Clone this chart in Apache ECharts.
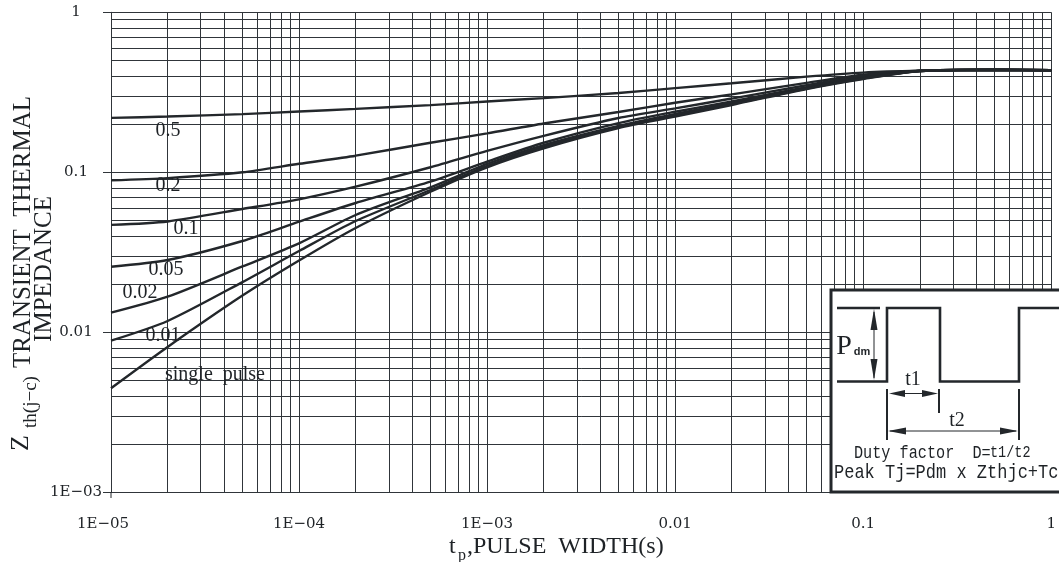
<!DOCTYPE html>
<html>
<head>
<meta charset="utf-8">
<script src="https://cdn.jsdelivr.net/npm/echarts@6/dist/echarts.min.js"></script>
<style>
  html, body { margin: 0; padding: 0; background: #ffffff; }
  #chart { width: 1059px; height: 562px; }
</style>
</head>
<body>
<div id="chart"></div>
<script>
// Pulse widths tp (s) where each curve is sampled
const pulseWidth = [1e-5, 2e-5, 5e-5, 1e-4, 2e-4, 5e-4, 1e-3, 2e-3, 5e-3, 1e-2, 2e-2, 5e-2, 0.1, 0.2, 0.5, 1];

// Transient thermal impedance Zth(j-c) for each duty factor
const zthD05    = [0.219, 0.223, 0.231, 0.240, 0.249, 0.263, 0.277, 0.291, 0.313, 0.336, 0.360, 0.396, 0.420, 0.431, 0.437, 0.434];
const zthD02    = [0.089, 0.092, 0.100, 0.113, 0.127, 0.153, 0.175, 0.202, 0.238, 0.272, 0.307, 0.362, 0.407, 0.431, 0.437, 0.434];
const zthD01    = [0.0469, 0.0493, 0.059, 0.0678, 0.0813, 0.1075, 0.136, 0.169, 0.2185, 0.251, 0.289, 0.350, 0.400, 0.430, 0.437, 0.434];
const zthD005   = [0.0257, 0.0283, 0.0372, 0.0491, 0.0643, 0.0874, 0.1165, 0.153, 0.203, 0.239, 0.277, 0.341, 0.391, 0.430, 0.437, 0.434];
const zthD002   = [0.01326, 0.0167, 0.0258, 0.036, 0.0541, 0.0806, 0.1127, 0.148, 0.195, 0.2314, 0.271, 0.336, 0.388, 0.430, 0.437, 0.434];
const zthD001   = [0.00886, 0.01177, 0.0206, 0.0322, 0.0496, 0.0775, 0.1095, 0.1445, 0.192, 0.2272, 0.267, 0.334, 0.3856, 0.430, 0.437, 0.434];
const zthSingle = [0.00447, 0.0081, 0.01696, 0.0281, 0.0449, 0.0756, 0.1075, 0.1413, 0.189, 0.2226, 0.2634, 0.3318, 0.383, 0.430, 0.437, 0.434];

const curveNames = ['0.5', '0.2', '0.1', '0.05', '0.02', '0.01', 'single pulse'];
const curveValues = [zthD05, zthD02, zthD01, zthD005, zthD002, zthD001, zthSingle];

// Decade tick labels
const xTickLabels = ['1E\u221205', '1E\u221204', '1E\u221203', '0.01', '0.1', '1'];
const yTickLabels = ['1E\u221203', '0.01', '0.1', '1'];

// Log-paper grid: 1..9 within every decade
const gridSteps = [1, 2, 3, 4, 5, 6, 7, 8, 9];
function decadeLines(fromExp, toExp) {
  const out = [];
  for (let e = fromExp; e < toExp; e++) {
    gridSteps.forEach(function (m) { out.push(Number((m * Math.pow(10, e)).toPrecision(6))); });
  }
  out.push(Math.pow(10, toExp));
  return out;
}
const xGridValues = decadeLines(-5, 0);
const yGridValues = decadeLines(-3, 0);

const INK = '#23272b';
const GRID = '#30353a';
const SERIF = '"Liberation Serif", "Times New Roman", serif';
const MONO = '"Liberation Mono", "Courier New", monospace';
const TICKFONT = '"DejaVu Serif", serif';

const chart = echarts.init(document.getElementById('chart'), null, { renderer: 'canvas' });

const curveSeries = curveNames.map(function (name, i) {
  return {
    name: name,
    type: 'line',
    z: 3,
    smooth: 0.25,
    showSymbol: false,
    symbol: 'none',
    silent: true,
    lineStyle: { color: INK, width: 2.4 },
    data: pulseWidth.map(function (t, k) { return [t, curveValues[i][k]]; })
  };
});

// Grid lines of the log paper drawn as mark lines on the axes' own scales
const gridSeries = {
  name: 'grid',
  type: 'line',
  z: 1,
  silent: true,
  showSymbol: false,
  symbol: 'none',
  lineStyle: { opacity: 0 },
  data: [[1e-5, 1e-3]],
  markLine: {
    silent: true,
    z: 1,
    precision: 12,
    animation: false,
    symbol: ['none', 'none'],
    label: { show: false },
    emphasis: { disabled: true },
    lineStyle: { color: GRID, width: 1, type: 'solid', opacity: 1 },
    data: xGridValues.map(function (v) { return { xAxis: v }; })
      .concat(yGridValues.map(function (v) { return { yAxis: v }; }))
  }
};

function txt(x, y, text, font, opts) {
  opts = opts || {};
  return {
    type: 'text',
    x: x, y: y, z: 100,
    rotation: opts.rotation || 0,
    scaleX: opts.scaleX || 1,
    scaleY: opts.scaleY || 1,
    silent: true,
    style: {
      text: text,
      font: font,
      fill: opts.fill || '#1e2226',
      align: opts.align || 'center',
      verticalAlign: 'middle'
    }
  };
}
function seg(x1, y1, x2, y2, w) {
  return { type: 'line', z: 101, silent: true, shape: { x1: x1, y1: y1, x2: x2, y2: y2 },
           style: { stroke: INK, lineWidth: w } };
}
function head(points) {
  return { type: 'polygon', z: 101, silent: true, shape: { points: points }, style: { fill: INK } };
}

const graphics = [
  // y-axis title, written bottom to top
  txt(21, 443, 'Z', '26px ' + SERIF, { rotation: Math.PI / 2 }),
  txt(31, 402, 'th(j\u2212c)', '19px ' + SERIF, { rotation: Math.PI / 2 }),
  txt(23, 232, 'TRANSIENT  THERMAL', '25px ' + SERIF, { rotation: Math.PI / 2 }),
  txt(44, 269, 'IMPEDANCE', '25px ' + SERIF, { rotation: Math.PI / 2 }),
  // x-axis title
  txt(449, 547, 't', '24px ' + SERIF, { align: 'left' }),
  txt(458, 556, 'p', '16px ' + SERIF, { align: 'left' }),
  txt(467, 547, ',PULSE  WIDTH(s)', '24px ' + SERIF, { align: 'left' }),
  // tick stub under the origin
  seg(111, 492, 111, 498, 1),
  // curve labels
  txt(168, 131, curveNames[0], '20px ' + SERIF),
  txt(168, 186, curveNames[1], '20px ' + SERIF),
  txt(186, 229, curveNames[2], '20px ' + SERIF),
  txt(166, 270, curveNames[3], '20px ' + SERIF),
  txt(140, 293, curveNames[4], '20px ' + SERIF),
  txt(163, 336, curveNames[5], '20px ' + SERIF),
  txt(215, 375, 'single  pulse', '20px ' + SERIF),

  // duty-cycle inset
  { type: 'rect', z: 99, silent: true, shape: { x: 831, y: 290, width: 240, height: 202 },
    style: { fill: '#ffffff', stroke: INK, lineWidth: 3 } },
  { type: 'polyline', z: 101, silent: true,
    shape: { points: [[837, 381.5], [887, 381.5], [887, 308], [940, 308], [940, 381.5], [1019, 381.5], [1019, 308], [1070, 308]] },
    style: { stroke: INK, lineWidth: 2.6, fill: null } },
  seg(837, 308, 880, 308, 2.6),
  // Pdm arrow
  seg(874, 312, 874, 378, 1),
  head([[874, 309], [870.5, 330], [877.5, 330]]),
  head([[874, 380], [870.5, 359], [877.5, 359]]),
  // t1 / t2 markers
  seg(887, 389, 887, 440, 2),
  seg(939, 389, 939, 413, 2),
  seg(1019, 389, 1019, 440, 2),
  seg(892, 393.5, 936, 393.5, 1),
  head([[889, 393.5], [905, 390], [905, 397]]),
  head([[938, 393.5], [922, 390], [922, 397]]),
  seg(890, 431, 1016, 431, 1),
  head([[888, 431], [906, 427.5], [906, 434.5]]),
  head([[1018, 431], [1000, 427.5], [1000, 434.5]]),
  txt(844, 347, 'P', '28px ' + SERIF),
  txt(862, 352, 'dm', 'bold 11px "Liberation Sans", sans-serif'),
  txt(913, 380, 't1', '20px ' + SERIF),
  txt(957, 421, 't2', '20px ' + SERIF),
  txt(854, 453, 'Duty factor  D=', '15.2px ' + MONO, { align: 'left', scaleY: 1.25 }),
  txt(990, 453, 't1/t2', '13.5px ' + MONO, { align: 'left', scaleY: 1.2 }),
  txt(834, 473, 'Peak Tj=Pdm x Zthjc+Tc', '17px ' + MONO, { align: 'left', scaleY: 1.2 })
];

const option = {
  animation: false,
  backgroundColor: '#ffffff',
  grid: { left: 111, top: 12.3, width: 950, height: 480, containLabel: false },
  xAxis: {
    type: 'log',
    logBase: 10,
    min: 1e-5,
    max: 1,
    axisLine: { show: true, lineStyle: { color: GRID, width: 1 } },
    axisTick: { show: false },
    splitLine: { show: false },
    axisLabel: {
      margin: 24,
      color: '#1e2226',
      fontFamily: TICKFONT,
      fontSize: 15,
      formatter: function (v) {
        const i = Math.round(Math.log10(v)) + 5;
        if (i === 0) return '{first|' + xTickLabels[0] + '}';
        return xTickLabels[i];
      },
      rich: {
        first: { fontFamily: TICKFONT, fontSize: 15, color: '#1e2226', padding: [0, 16, 0, 0] }
      }
    }
  },
  yAxis: {
    type: 'log',
    logBase: 10,
    min: 1e-3,
    max: 1,
    axisLine: { show: true, lineStyle: { color: GRID, width: 1 } },
    axisTick: { show: true, length: 8, lineStyle: { color: GRID, width: 1 } },
    splitLine: { show: false },
    axisLabel: {
      margin: 35,
      align: 'center',
      color: '#1e2226',
      fontFamily: TICKFONT,
      fontSize: 15,
      formatter: function (v) {
        return yTickLabels[Math.round(Math.log10(v)) + 3];
      }
    }
  },
  series: [gridSeries].concat(curveSeries),
  graphic: graphics
};

chart.setOption(option);
</script>
</body>
</html>
